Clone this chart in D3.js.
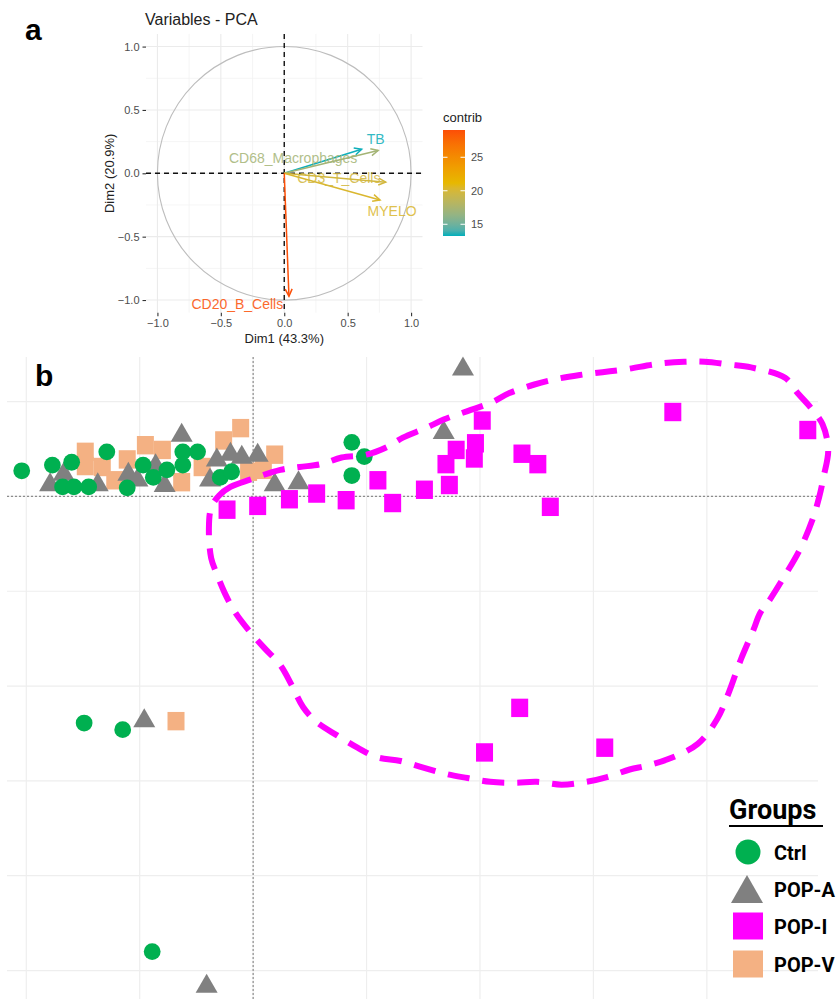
<!DOCTYPE html>
<html><head><meta charset="utf-8">
<script src="https://cdn.jsdelivr.net/npm/d3@7"></script>
<style>body{margin:0;background:#fff} svg{display:block}</style>
</head><body>
<svg id="chart" width="839" height="999"></svg>
<script>
// ---------- Panel a: PCA variables ----------
const pcaVars     = ["TB", "CD68_Macrophages", "CD3_T_Cells", "MYELO", "CD20_B_Cells"];
const pcaDim1     = [0.61, 0.74, 0.80, 0.755, 0.037];
const pcaDim2     = [0.19, 0.18, -0.07, -0.21, -0.97];
const pcaContrib  = [13.3, 17.2, 19.8, 20.3, 29.0];
const pcaLabelX   = [0.72, 0.07, 0.43, 0.85, -0.37];
const pcaLabelY   = [0.27, 0.12, -0.04, -0.30, -1.03];
const pcaTicks    = [-1.0, -0.5, 0.0, 0.5, 1.0];
const pcaMinor    = [-0.75, -0.25, 0.25, 0.75];
const contribTicks = [15, 20, 25];
const contribRange = [13.25, 29.07];
const contribCols  = ["#00AFBB", "#E7B800", "#FC4E07"];

// ---------- Panel b: individuals ----------
const groupNames  = ["Ctrl", "POP-A", "POP-I", "POP-V"];
const groupColors = ["#00B050", "#808080", "#FF00FF", "#F4B183"];
const ctrlPts = [[-2.04,0.27],[-1.77,0.33],[-1.60,0.36],[-1.68,0.10],[-1.58,0.10],[-1.45,0.10],
  [-1.29,0.47],[-1.11,0.09],[-0.97,0.33],[-0.88,0.20],[-0.76,0.28],[-0.62,0.47],[-0.49,0.47],
  [-0.62,0.33],[-0.29,0.20],[-0.19,0.26],[0.87,0.57],[0.98,0.42],[0.87,0.22],
  [-1.49,-2.39],[-1.15,-2.46],[-0.89,-4.80]];
const popAPts = [[-1.79,0.15],[-1.67,0.26],[-1.37,0.15],[-1.10,0.26],[-1.02,0.20],[-0.86,0.35],
  [-0.78,0.14],[-0.63,0.67],[-0.38,0.20],[-0.32,0.41],[-0.20,0.47],[-0.10,0.44],[0.04,0.46],
  [0.19,0.15],[0.40,0.17],[1.68,0.70],[1.85,1.37],[-0.96,-2.34],[-0.41,-5.14]];
const popIPts = [[-0.23,-0.14],[0.04,-0.10],[0.32,-0.03],[0.56,0.03],[0.82,-0.04],[1.10,0.17],
  [1.23,-0.07],[1.51,0.07],[1.70,0.34],[1.73,0.12],[1.79,0.49],[1.95,0.40],[1.96,0.56],
  [2.02,0.80],[2.37,0.45],[2.51,0.34],[2.62,-0.11],[3.70,0.89],[4.89,0.70],
  [2.35,-2.23],[2.04,-2.70],[3.10,-2.65]];
const popVPts = [[-1.48,0.47],[-1.48,0.32],[-1.33,0.31],[-1.22,0.17],[-1.11,0.39],[-0.95,0.54],
  [-0.80,0.49],[-0.63,0.15],[-0.45,0.31],[-0.26,0.59],[-0.11,0.72],[-0.04,0.26],[0.09,0.28],
  [0.19,0.44],[-0.68,-2.37]];
// hand-drawn hull around POP-I (data units)
const hullPts = [[-0.30,0.01],[-0.20,0.10],[-0.02,0.18],[0.24,0.28],[0.41,0.31],[0.60,0.34],
  [0.78,0.41],[1.00,0.44],[1.18,0.52],[1.32,0.62],[1.52,0.72],[1.68,0.81],[1.89,0.90],
  [2.10,0.99],[2.26,1.09],[2.48,1.18],[2.68,1.24],[2.88,1.28],[3.08,1.31],[3.28,1.34],
  [3.58,1.40],[3.80,1.42],[3.98,1.42],[4.20,1.39],[4.39,1.36],[4.69,1.25],[4.80,1.09],
  [4.92,0.93],[5.02,0.76],[5.07,0.49],[5.03,0.21],[4.99,-0.01],[4.93,-0.25],[4.82,-0.56],
  [4.68,-0.85],[4.56,-1.08],[4.47,-1.23],[4.41,-1.41],[4.30,-1.72],[4.19,-2.08],[4.09,-2.35],
  [3.92,-2.61],[3.66,-2.77],[3.47,-2.84],[3.32,-2.88],[3.12,-2.96],[2.94,-3.01],[2.72,-3.04],
  [2.50,-3.01],[2.31,-3.02],[2.09,-3.01],[1.89,-2.97],[1.71,-2.93],[1.50,-2.86],[1.30,-2.79],
  [1.09,-2.75],[0.92,-2.65],[0.74,-2.52],[0.56,-2.38],[0.44,-2.22],[0.34,-1.99],[0.24,-1.78],
  [0.10,-1.60],[-0.04,-1.41],[-0.16,-1.22],[-0.25,-1.02],[-0.32,-0.82],[-0.37,-0.65],
  [-0.39,-0.34],[-0.37,-0.12]];
const gridXb = [-2, -1, 0, 1, 2, 3, 4];
const gridYb = [1, 0, -1, -2, -3, -4, -5];

const svg = d3.select("#chart");
const FONT = "'Liberation Sans', Arial, sans-serif";

// ================= Panel a =================
const xa = d3.scaleLinear().domain([-1.09, 1.09]).range([146, 422.5]);
const ya = d3.scaleLinear().domain([1.1, -1.1]).range([33.9, 312.7]);
const ga = svg.append("g");

// grid
pcaMinor.forEach(v => {
  ga.append("line").attr("x1", xa(v)).attr("x2", xa(v)).attr("y1", ya.range()[0]).attr("y2", ya.range()[1])
    .attr("stroke", "#f2f2f2").attr("stroke-width", 0.8);
  ga.append("line").attr("y1", ya(v)).attr("y2", ya(v)).attr("x1", xa.range()[0]).attr("x2", xa.range()[1])
    .attr("stroke", "#f2f2f2").attr("stroke-width", 0.8);
});
pcaTicks.forEach(v => {
  ga.append("line").attr("x1", xa(v)).attr("x2", xa(v)).attr("y1", ya.range()[0]).attr("y2", ya.range()[1])
    .attr("stroke", "#ebebeb").attr("stroke-width", 1.1);
  ga.append("line").attr("y1", ya(v)).attr("y2", ya(v)).attr("x1", xa.range()[0]).attr("x2", xa.range()[1])
    .attr("stroke", "#ebebeb").attr("stroke-width", 1.1);
});

// axes
const fmt = d3.format(".1f");
const axL = ga.append("g").attr("transform", `translate(${xa.range()[0]},0)`)
  .call(d3.axisLeft(ya).tickValues(pcaTicks).tickFormat(fmt).tickSize(3.5).tickPadding(3));
const axB = ga.append("g").attr("transform", `translate(0,${ya.range()[1]})`)
  .call(d3.axisBottom(xa).tickValues(pcaTicks).tickFormat(fmt).tickSize(3.5).tickPadding(3));
[axL, axB].forEach(a => {
  a.select(".domain").remove();
  a.selectAll(".tick line").attr("stroke", "#333").attr("stroke-width", 1.1);
  a.selectAll(".tick text").attr("fill", "#4d4d4d").attr("font-size", 11).attr("font-family", FONT);
});

// unit circle
ga.append("circle").attr("cx", xa(0)).attr("cy", ya(0)).attr("r", xa(1) - xa(0))
  .attr("fill", "none").attr("stroke", "#bdbdbd").attr("stroke-width", 1.1);

// dashed zero lines
ga.append("line").attr("x1", xa.range()[0]).attr("x2", xa.range()[1]).attr("y1", ya(0)).attr("y2", ya(0))
  .attr("stroke", "#111").attr("stroke-width", 1.4).attr("stroke-dasharray", "5,4");
ga.append("line").attr("x1", xa(0)).attr("x2", xa(0)).attr("y1", ya.range()[0]).attr("y2", ya.range()[1])
  .attr("stroke", "#111").attr("stroke-width", 1.4).attr("stroke-dasharray", "5,4");

// colour scale
const cMid = (contribRange[0] + contribRange[1]) / 2;
const cScale = d3.scaleLinear().domain([contribRange[0], cMid, contribRange[1]]).range(contribCols)
  .interpolate(d3.interpolateLab);

// arrows
pcaVars.forEach((name, i) => {
  const x0 = xa(0), y0 = ya(0), x1 = xa(pcaDim1[i]), y1 = ya(pcaDim2[i]);
  const col = cScale(pcaContrib[i]);
  const ang = Math.atan2(y1 - y0, x1 - x0);
  const L = 8, a = Math.PI / 7;
  ga.append("line").attr("x1", x0).attr("y1", y0).attr("x2", x1).attr("y2", y1)
    .attr("stroke", col).attr("stroke-width", 1.5);
  ga.append("path")
    .attr("d", `M${x1 - L * Math.cos(ang - a)},${y1 - L * Math.sin(ang - a)}L${x1},${y1}L${x1 - L * Math.cos(ang + a)},${y1 - L * Math.sin(ang + a)}`)
    .attr("fill", "none").attr("stroke", col).attr("stroke-width", 1.5);
});
pcaVars.forEach((name, i) => {
  ga.append("text").attr("x", xa(pcaLabelX[i])).attr("y", ya(pcaLabelY[i]))
    .attr("text-anchor", "middle").attr("dominant-baseline", "central")
    .attr("font-family", FONT).attr("font-size", 14)
    .attr("fill", cScale(pcaContrib[i])).attr("opacity", 0.85).text(name);
});

// titles
ga.append("text").attr("x", 145).attr("y", 25).attr("font-family", FONT).attr("font-size", 16)
  .attr("fill", "#222").text("Variables - PCA");
ga.append("text").attr("x", xa(0)).attr("y", 343).attr("text-anchor", "middle")
  .attr("font-family", FONT).attr("font-size", 13).attr("fill", "#222").text("Dim1 (43.3%)");
ga.append("text").attr("transform", `translate(114,${ya(0)}) rotate(-90)`).attr("text-anchor", "middle")
  .attr("font-family", FONT).attr("font-size", 13).attr("fill", "#222").text("Dim2 (20.9%)");

// colour bar legend
const cb = d3.scaleLinear().domain(contribRange).range([236, 130]);
const defs = svg.append("defs");
const grad = defs.append("linearGradient").attr("id", "cgrad").attr("x1", 0).attr("x2", 0).attr("y1", 1).attr("y2", 0);
d3.range(0, 1.0001, 0.05).forEach(t => {
  grad.append("stop").attr("offset", t)
    .attr("stop-color", cScale(contribRange[0] + t * (contribRange[1] - contribRange[0])));
});
ga.append("rect").attr("x", 443).attr("y", cb(contribRange[1])).attr("width", 22)
  .attr("height", cb(contribRange[0]) - cb(contribRange[1])).attr("fill", "url(#cgrad)");
contribTicks.forEach(v => {
  ga.append("line").attr("x1", 443).attr("x2", 447.5).attr("y1", cb(v)).attr("y2", cb(v)).attr("stroke", "#fff").attr("stroke-width", 1);
  ga.append("line").attr("x1", 460.5).attr("x2", 465).attr("y1", cb(v)).attr("y2", cb(v)).attr("stroke", "#fff").attr("stroke-width", 1);
  ga.append("text").attr("x", 471).attr("y", cb(v)).attr("dominant-baseline", "central")
    .attr("font-family", FONT).attr("font-size", 11).attr("fill", "#4d4d4d").text(v);
});
ga.append("text").attr("x", 443).attr("y", 122).attr("font-family", FONT).attr("font-size", 13)
  .attr("fill", "#222").text("contrib");

// panel label a
svg.append("text").attr("x", 25).attr("y", 40).attr("font-family", FONT).attr("font-weight", "bold")
  .attr("font-size", 30).attr("fill", "#000").text("a");

// ================= Panel b =================
const xb = d3.scaleLinear().domain([-2.17, 4.98]).range([7, 818]);
const yb = d3.scaleLinear().domain([1.47, -5.30]).range([357, 999]);
const gb = svg.append("g");

gridXb.forEach(v => {
  gb.append("line").attr("x1", xb(v)).attr("x2", xb(v)).attr("y1", yb.range()[0]).attr("y2", 999)
    .attr("stroke", "#eeeeee").attr("stroke-width", 1.2);
});
gridYb.forEach(v => {
  gb.append("line").attr("y1", yb(v)).attr("y2", yb(v)).attr("x1", xb.range()[0]).attr("x2", xb.range()[1])
    .attr("stroke", "#eeeeee").attr("stroke-width", 1.2);
});
gb.append("line").attr("x1", xb(0)).attr("x2", xb(0)).attr("y1", yb.range()[0]).attr("y2", 999)
  .attr("stroke", "#8c8c8c").attr("stroke-width", 1.2).attr("stroke-dasharray", "2,2");
gb.append("line").attr("y1", yb(0)).attr("y2", yb(0)).attr("x1", xb.range()[0]).attr("x2", xb.range()[1])
  .attr("stroke", "#8c8c8c").attr("stroke-width", 1.2).attr("stroke-dasharray", "2,2");

const triPath = "M0,-10L11,9L-11,9Z";
function drawSquares(pts, col) {
  gb.append("g").selectAll("rect").data(pts).join("rect")
    .attr("x", d => xb(d[0]) - 8.5).attr("y", d => yb(d[1]) - 9.2)
    .attr("width", 17).attr("height", 18.4).attr("fill", col);
}
drawSquares(popVPts, groupColors[3]);
gb.append("g").selectAll("path").data(popAPts).join("path")
  .attr("d", triPath).attr("transform", d => `translate(${xb(d[0])},${yb(d[1])})`)
  .attr("fill", groupColors[1]);
gb.append("g").selectAll("circle").data(ctrlPts).join("circle")
  .attr("cx", d => xb(d[0])).attr("cy", d => yb(d[1])).attr("r", 8.4).attr("fill", groupColors[0]);
drawSquares(popIPts, groupColors[2]);

// hull
gb.append("path").datum(hullPts)
  .attr("d", d3.line().x(d => xb(d[0])).y(d => yb(d[1])).curve(d3.curveCatmullRomClosed.alpha(0.5)))
  .attr("fill", "none").attr("stroke", "#FF00FF").attr("stroke-width", 6)
  .attr("stroke-dasharray", "22,13");

// panel label b
svg.append("text").attr("x", 35).attr("y", 386).attr("font-family", FONT).attr("font-weight", "bold")
  .attr("font-size", 30).attr("fill", "#000").text("b");

// legend
const LF = "Roboto, 'Liberation Sans', sans-serif";
const lg = svg.append("g");
lg.append("text").attr("x", 729).attr("y", 819).attr("font-family", LF).attr("font-weight", "bold")
  .attr("font-size", 27).attr("fill", "#000").text("Groups");
lg.append("line").attr("x1", 729).attr("x2", 823).attr("y1", 826).attr("y2", 826)
  .attr("stroke", "#000").attr("stroke-width", 2);
const legY = [852, 889, 926, 964];
groupNames.forEach((g, i) => {
  const cy = legY[i], cx = 748;
  if (i === 0) lg.append("circle").attr("cx", cx).attr("cy", cy).attr("r", 12.5).attr("fill", groupColors[i]);
  else if (i === 1) lg.append("path").attr("d", "M0,-14L16,14L-16,14Z").attr("transform", `translate(${cx - 1},${cy})`).attr("fill", groupColors[i]);
  else lg.append("rect").attr("x", cx - 15).attr("y", cy - 13.5).attr("width", 30).attr("height", 27).attr("fill", groupColors[i]);
  lg.append("text").attr("x", 774).attr("y", cy + 7.5).attr("font-family", LF).attr("font-weight", "bold")
    .attr("font-size", 20).attr("fill", "#000").text(g);
});
</script>
</body></html>
